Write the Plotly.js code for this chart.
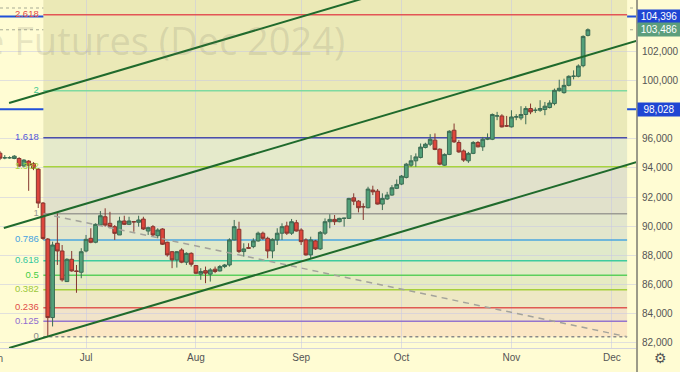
<!DOCTYPE html>
<html><head><meta charset="utf-8">
<script src="https://cdn.plot.ly/plotly-3.0.1.min.js"></script>
<style>html,body{margin:0;padding:0;background:#fffcd3;}#c{width:680px;height:372px;}</style>
</head><body><div id="c"></div>
<script>
// ---- candle data (bar index 0 = first trading day of July) ----
const firstIndex = -18;
const opens  = [95015,94690,94700,94650,94650,94130,94470,94310,93920,91590,89120,83730,88830,88300,86200,87730,86930,86840,
 88300,89170,88900,90080,90650,90200,89970,89400,90360,90130,90310,90270,90490,89670,89970,89350,89810,88900,88250,87690,88370,87530,88140,
 87300,86710,86950,86710,87050,86930,87230,87340,89060,89790,88260,88530,88600,88990,89520,89170,88300,89060,89520,90020,89520,90240,
 89740,89060,88030,88990,88440,89520,90310,90470,90310,90540,90540,91950,91720,91340,91270,92480,92410,91520,91870,92140,92600,
 92890,93350,94190,94490,94720,95410,95630,95910,95290,94190,94930,96590,95750,95170,94490,95000,95750,95450,95970,95970,97560,97570,96890,
 96820,97500,97430,97670,98080,97960,97960,98010,98150,98420,99310,99170,99670,100290,100290,101020,103100];
const highs  = [95150,94880,94800,94880,94740,94600,94540,94400,93990,91660,89190,88940,90880,88710,87800,88300,87340,88490,
 89400,89860,90200,91040,91230,90990,90080,90650,90720,90650,90360,90720,90650,89970,90080,89860,89860,88940,88300,88300,88490,88210,88210,
 87340,87120,87230,87120,87230,87340,87410,89170,90430,90310,88830,88830,89170,89630,89630,89280,89170,89860,90200,90310,90500,90430,
 89860,89170,89280,89060,89670,90540,90820,90770,90580,90580,91950,92260,91790,91570,92710,92780,92550,92260,92360,92820,93210,
 93510,94350,94880,95000,95680,95730,96320,96370,95340,95000,96590,97050,95910,95270,95100,95840,95840,96130,96370,97740,97850,97690,97570,
 97960,97690,98240,98240,98420,98150,98650,98530,98650,99450,100060,100130,100360,100700,101110,103100,103580];
const lows   = [94540,94600,94640,94600,94060,94080,92430,93850,91250,89060,82420,83120,87340,86200,86180,86880,85430,86430,
 88210,88830,88830,90040,89970,89860,89060,89400,90080,90080,89620,89970,89740,89400,89280,89170,88710,87910,87120,87160,87460,87340,87230,
 86710,86320,86090,86200,86780,86890,87120,87230,89030,88150,87910,88460,88490,88940,89060,87800,87800,88710,89060,89400,89400,89630,
 88710,87980,87800,88370,88370,89400,89860,90080,90270,89970,90500,91450,90950,90430,91230,92140,91490,91110,91800,92090,92550,
 92820,93280,94080,94080,94650,95340,95500,95220,94190,94150,94880,95720,95040,94420,94350,94950,95410,95170,95910,95910,97280,96780,96820,
 96780,97280,97280,97000,97690,97780,97850,97620,98080,98300,99240,99100,99600,100080,100220,100910,103030];
const closes = [94670,94700,94700,94810,94130,94540,94190,93970,91590,89160,83730,88710,88300,86320,87730,86930,86900,88250,
 89100,88900,90130,90720,90080,89970,89510,90360,90130,90360,90300,90430,89810,89900,89400,89740,88760,88030,87690,88250,87530,88140,87390,
 86770,86890,86780,87000,86890,87230,87340,89060,89970,88260,88440,88490,88990,89520,89170,88300,89100,89520,89970,89520,90310,89670,
 88940,88030,89060,88440,89580,90310,90470,90310,90540,90550,91910,91720,91270,91330,92550,92360,91520,91910,92140,92640,92870,
 93440,94260,94490,94760,95430,95630,95970,95270,94260,94930,96520,95790,95100,94540,95000,95750,95450,95970,96020,97670,97580,96820,96880,
 97500,97510,97670,98080,97850,97960,98080,98240,98460,99330,99470,99670,100290,100300,101000,103030,103486];

// ---- axis ticks ----
const monthTickIndex = [0, 23, 45, 66, 89, 110];
const monthTickText  = ["Jul", "Aug", "Sep", "Oct", "Nov", "Dec"];
const priceTicks = [82000, 84000, 86000, 88000, 90000, 92000, 94000, 96000, 100000, 102000];
const priceTickText = ["82,000","84,000","86,000","88,000","90,000","92,000","94,000","96,000","100,000","102,000"];

// ---- Fibonacci retracement drawing ----
const fibAnchor0 = 82416, fibAnchor1 = 90860;      // price of level 0 and level 1
const fibStartIndex = -8.93, fibEndIndex = 113.2;
const fibLevels = [0, 0.125, 0.236, 0.382, 0.5, 0.618, 0.786, 1, 1.382, 1.618, 2, 2.618];
const fibLabels = ["0","0.125","0.236","0.382","0.5","0.618","0.786","1","1.382","1.618","2","2.618"];
const fibLineColors = ["#8a8a8a","#9575cd","#e05a52","#a6cf3c","#5ccf5c","#3fcb9e","#4aa6df","#9c9c94","#a8d43c","#4b4fa8","#7ed9a0","#e35555"];
const fibTextColors = ["#8a8a8a","#8f6fd0","#e0504a","#9cc83a","#44cc44","#33c7a0","#45a2e0","#9a9a92","#a8d43c","#5458d8","#3fc98e","#e34a4a"];
const fibTopLevel = 3.618;
const fibBandColors = ["#fbe6c4","#f1e3c9","#eee8c4","#e6ebc2","#e2ebc6","#e0e9ca","#e2e6cc","#e1e1cb","#e5eacb","#eae9b8","#ebe9b7","#ebe9b6"];

// ---- channel (three parallel lines) : [x0, y0, x1, y1] ----
const channelUpper  = [-16.1, 98460, 60, 105830];
const channelMiddle = [-17.2, 89880, 115.1, 102715];
const channelLower  = [-16.1, 81640, 115.1, 94390];
const fibTrendLine  = [-8.93, 90860, 113.2, 82416];

// ---- horizontal price lines ----
const blueLevels = [104396, 98028];
const lastPrice = 103486;
const dottedLevels = [104980, 103486];

const FONT = 'Liberation Sans, Arial, sans-serif';
const fibPrice = L => fibAnchor0 + L * (fibAnchor1 - fibAnchor0);
const xs = opens.map((_, i) => firstIndex + i);

const traces = [];
traces.push({
  type: 'candlestick', x: xs, open: opens, high: highs, low: lows, close: closes,
  increasing: {line: {color: '#3b6b53', width: 1}, fillcolor: '#52a079'},
  decreasing: {line: {color: '#86362f', width: 1}, fillcolor: '#de463c'},
  whiskerwidth: 0, hoverinfo: 'skip', showlegend: false
});
function seg(a, color, width, dash) {
  return {type: 'scatter', mode: 'lines', x: [a[0], a[2]], y: [a[1], a[3]],
    line: {color: color, width: width, dash: dash || 'solid'}, hoverinfo: 'skip', showlegend: false};
}
traces.push(seg(fibTrendLine, '#a3a39b', 1.5, '6px,5px'));
traces.push(seg(channelUpper, '#1f6a2c', 2));
traces.push(seg(channelMiddle, '#1f6a2c', 2));
traces.push(seg(channelLower, '#1f6a2c', 2));
traces.push({
  type: 'scatter', mode: 'text', x: fibLevels.map(() => -9.9), y: fibLevels.map(fibPrice),
  text: fibLabels, textposition: 'middle left',
  textfont: {size: 9.5, color: fibTextColors, family: FONT},
  hoverinfo: 'skip', showlegend: false, cliponaxis: false
});

const shapes = [];
const bandEdges = fibLevels.concat([fibTopLevel]);
for (let i = 0; i < fibLevels.length; i++) {
  shapes.push({type: 'rect', layer: 'below', xref: 'x', yref: 'y',
    x0: fibStartIndex, x1: fibEndIndex, y0: fibPrice(bandEdges[i]), y1: fibPrice(bandEdges[i + 1]),
    fillcolor: fibBandColors[i], line: {width: 0}});
}
fibLevels.forEach((L, i) => {
  shapes.push({type: 'line', layer: 'between', xref: 'x', yref: 'y',
    x0: fibStartIndex, x1: fibEndIndex, y0: fibPrice(L), y1: fibPrice(L),
    line: {color: fibLineColors[i], width: 1.5, dash: L === 0 ? 'dot' : 'solid'}});
});
dottedLevels.forEach(v => shapes.push({type: 'line', layer: 'between', xref: 'paper', yref: 'y',
  x0: 0, x1: 1, y0: v, y1: v, line: {color: '#a7ab95', width: 1, dash: 'dot'}}));
blueLevels.forEach(v => shapes.push({type: 'line', layer: 'between', xref: 'paper', yref: 'y',
  x0: 0, x1: 1, y0: v, y1: v, line: {color: '#2150d8', width: 2}}));
// right price-scale separator running through the time scale
shapes.push({type: 'line', xref: 'paper', yref: 'paper', x0: 1.0016, x1: 1.0016, y0: -24 / 348, y1: 1,
  line: {color: '#9b9a88', width: 2}});

const fmt = v => v.toLocaleString('en-US');
const annotations = [
  {xref: 'paper', yref: 'paper', x: 347 / 636, y: (348 - 40) / 348, xanchor: 'right', yanchor: 'middle',
   text: 'e Futures (Dec 2024)', showarrow: false,
   font: {size: 38, color: 'rgba(110,110,95,0.17)', family: 'Open Sans, sans-serif'}},
  {xref: 'paper', yref: 'paper', x: -5 / 636, y: -10 / 348, xanchor: 'center', yanchor: 'middle',
   text: 'Jun', showarrow: false, font: {size: 10, color: '#555', family: FONT}},
  {xref: 'paper', yref: 'paper', x: 660 / 636, y: -10 / 348, xanchor: 'center', yanchor: 'middle',
   text: '⚙', showarrow: false, font: {size: 14, color: '#555', family: 'DejaVu Sans'}}
];
blueLevels.forEach(v => annotations.push({xref: 'paper', yref: 'y', x: 1, y: v, xanchor: 'left', yanchor: 'middle',
  xshift: 1, text: fmt(v), showarrow: false, bgcolor: '#1f46d3', borderpad: 1, width: 40, height: 11,
  font: {size: 10, color: '#ffffff', family: FONT}}));
annotations.push({xref: 'paper', yref: 'y', x: 1, y: lastPrice, xanchor: 'left', yanchor: 'middle',
  xshift: 1, text: fmt(lastPrice), showarrow: false, bgcolor: '#5c9e7d', borderpad: 1, width: 40, height: 11,
  font: {size: 10, color: '#ffffff', family: FONT}});

const layout = {
  width: 680, height: 372, margin: {l: 0, r: 44, t: 0, b: 24},
  paper_bgcolor: '#fffcd3', plot_bgcolor: '#fffcd3', showlegend: false,
  boxgap: 0.22, boxgroupgap: 0,
  font: {family: FONT, size: 10, color: '#555'},
  xaxis: {range: [-18.0, 115.06], tickvals: monthTickIndex, ticktext: monthTickText,
    showgrid: true, gridcolor: 'rgba(200,200,228,0.55)', zeroline: false, showline: true,
    linecolor: '#d3d3dc', linewidth: 1, ticks: '', rangeslider: {visible: false}, fixedrange: true,
    tickfont: {size: 10, color: '#555', family: FONT}},
  yaxis: {side: 'right', range: [81640, 105530], tickvals: priceTicks, ticktext: priceTickText,
    showgrid: true, gridcolor: 'rgba(200,200,228,0.55)', zeroline: false, showline: false,
    ticks: 'outside', ticklen: 3, tickcolor: 'rgba(0,0,0,0)',
    tickfont: {size: 10, color: '#555', family: FONT}, fixedrange: true},
  shapes: shapes, annotations: annotations
};
Plotly.newPlot('c', traces, layout, {staticPlot: true});
</script></body></html>
